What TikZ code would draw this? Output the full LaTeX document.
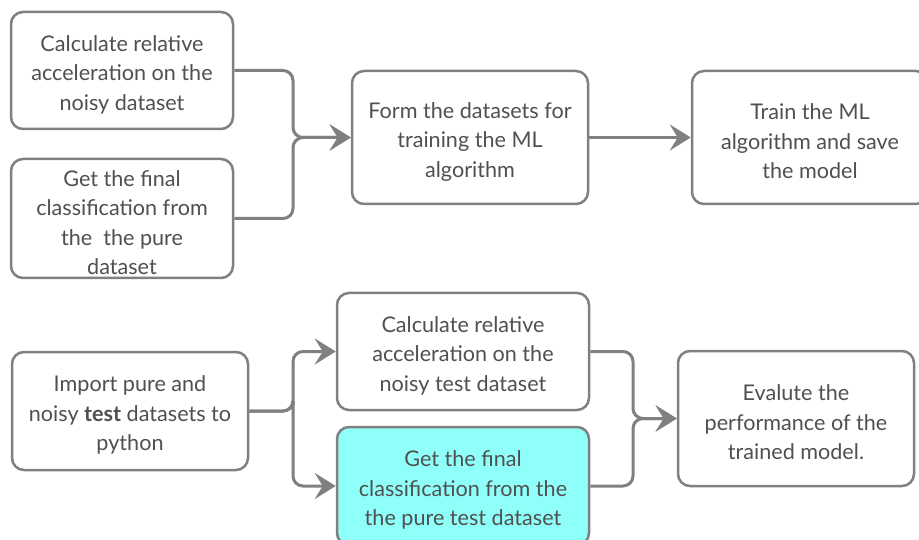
\documentclass[tikz,border=0pt]{standalone}
\usepackage{fontspec}
\setmainfont{Lato}
\usetikzlibrary{arrows.meta}
\definecolor{boxline}{RGB}{128,128,128}
\definecolor{boxtext}{RGB}{80,80,80}
\definecolor{boxcyan}{RGB}{143,255,250}
\newcommand{\boxlead}{\mbox{}\\[-5.5pt]}

\begin{document}
\begin{tikzpicture}[x=1pt, y=-1pt,
  box/.style={draw=boxline, line width=2.5pt, rounded corners=12pt, fill=white, align=center, text=boxtext, inner sep=0pt, font=\fontsize{21.6}{29.5}\selectfont},
  link/.style={draw=boxline, line width=3pt, rounded corners=10pt, -{Stealth[length=21pt, width=26pt, inset=8pt]}}]
\useasboundingbox (0,0) rectangle (919,540);
\node[box, minimum width=222pt, minimum height=117pt] (R1N1) at (122,70.5) {\boxlead Calculate relative\\acceleration on the\\noisy dataset};
\node[box, minimum width=222pt, minimum height=119pt] (R1N2) at (122,218.5) {\boxlead Get the final\\classification from\\the\ \ the pure\\dataset};
\node[box, minimum width=236pt, minimum height=133pt] (R1N3) at (470,137.5) {\boxlead Form the datasets for\\training the ML\\algorithm};
\node[box, minimum width=236pt, minimum height=133pt] (R1N4) at (810,137.5) {\boxlead Train the ML\\algorithm and save\\the model};
\node[box, minimum width=236pt, minimum height=118pt] (R2N1) at (130,411) {\boxlead Import pure and\\noisy \textbf{test} datasets to\\python};
\node[box, minimum width=252pt, minimum height=117pt] (R2N2) at (463,351.5) {\boxlead Calculate relative\\acceleration on the\\noisy test dataset};
\node[box, fill=boxcyan, minimum width=252pt, minimum height=118pt] (R2N3) at (463,486) {\boxlead Get the final\\classification from the\\the pure test dataset};
\node[box, minimum width=236pt, minimum height=135pt] (R2N4) at (796,418.5) {\boxlead Evalute the\\performance of the\\trained model.};
\coordinate (J1) at (293,137.5);
\coordinate (J2) at (293,411);
\coordinate (J3) at (633,418.5);
\draw[link] (R1N1.east) -| (J1) -- (R1N3.west);
\draw[link] (R1N2.east) -| (J1) -- (R1N3.west);
\draw[link] (R1N3.east) -- (R1N4.west);
\draw[link] (R2N1.east) -| (J2) |- (R2N2.west);
\draw[link] (R2N1.east) -| (J2) |- (R2N3.west);
\draw[link] (R2N2.east) -| (J3) -- (R2N4.west);
\draw[link] (R2N3.east) -| (J3) -- (R2N4.west);
\end{tikzpicture}
\end{document}
